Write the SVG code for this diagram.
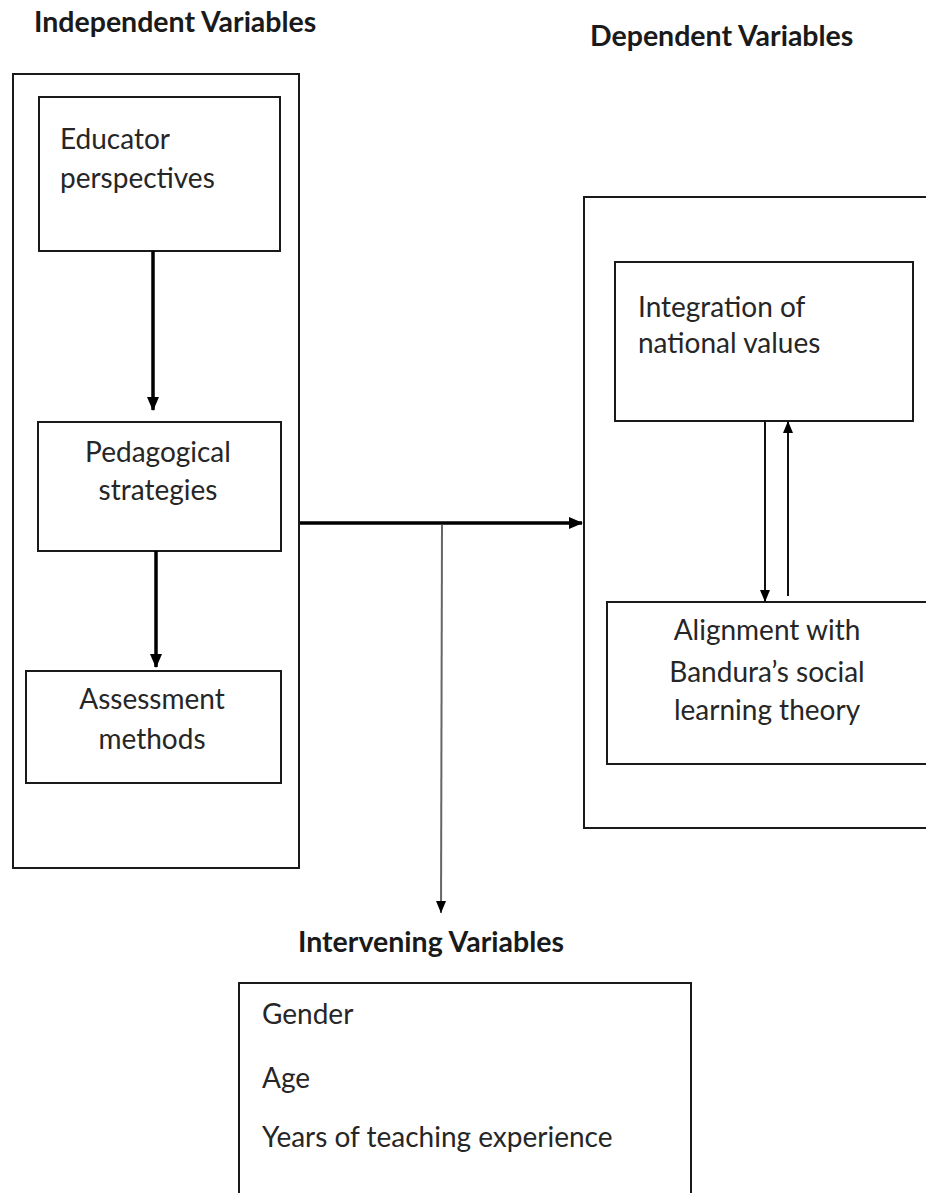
<svg xmlns="http://www.w3.org/2000/svg" width="926" height="1193" viewBox="0 0 926 1193">
<style>
.box{fill:#fff;stroke:#1a1a1a;stroke-width:2}
.t{font-family:Lato,"Open Sans","Liberation Sans",sans-serif;font-size:28px;fill:#262626}
.h{font-family:Lato,"Open Sans","Liberation Sans",sans-serif;font-size:28.5px;font-weight:bold;fill:#1a1a1a}
.thick{stroke:#000;stroke-width:3.5;fill:none}
.thin{stroke:#111;stroke-width:2;fill:none}
.gray{stroke:#666;stroke-width:2;fill:none}
</style>
<defs>
<marker id="ah" markerUnits="userSpaceOnUse" markerWidth="14" markerHeight="14" viewBox="0 0 14 14" refX="13" refY="7" orient="auto"><path d="M0,1 L14,7 L0,13 Z" fill="#000"/></marker>
<marker id="as" markerUnits="userSpaceOnUse" markerWidth="12" markerHeight="12" viewBox="0 0 12 12" refX="12" refY="6" orient="auto"><path d="M0,1 L12,6 L0,11 Z" fill="#000"/></marker>
</defs>
<rect width="926" height="1193" fill="#fff"/>

<g id="title-independent"><text class="h" x="34" y="32">Independent Variables</text></g>
<g id="title-dependent"><text class="h" x="590" y="46">Dependent Variables</text></g>
<g id="title-intervening"><text class="h" x="298" y="952">Intervening Variables</text></g>

<g id="independent-group"><rect class="box" x="13" y="74" width="286" height="794"/></g>
<g id="dependent-group"><rect class="box" x="584" y="197" width="350" height="631"/></g>

<g id="educator"><rect class="box" x="39" y="97" width="241" height="154"/>
<text class="t" x="60" y="149">Educator</text><text class="t" x="60" y="188">perspectives</text></g>
<g id="pedagogical"><rect class="box" x="38" y="422" width="243" height="129"/>
<text class="t" x="158" y="462" text-anchor="middle">Pedagogical</text><text class="t" x="158" y="500" text-anchor="middle">strategies</text></g>
<g id="assessment"><rect class="box" x="26" y="671" width="255" height="112"/>
<text class="t" x="152" y="709" text-anchor="middle">Assessment</text><text class="t" x="152" y="749" text-anchor="middle">methods</text></g>

<g id="integration"><rect class="box" x="615" y="262" width="298" height="159"/>
<text class="t" x="638" y="317">Integration of</text><text class="t" x="638" y="353">national values</text></g>
<g id="alignment"><rect class="box" x="607" y="602" width="330" height="162"/>
<text class="t" x="767" y="640" text-anchor="middle">Alignment with</text><text class="t" x="767" y="682" text-anchor="middle">Bandura’s social</text><text class="t" x="767" y="720" text-anchor="middle">learning theory</text></g>

<g id="intervening"><rect class="box" x="239" y="983" width="452" height="230"/>
<text class="t" x="262" y="1024">Gender</text><text class="t" x="262" y="1088">Age</text><text class="t" x="262" y="1147">Years of teaching experience</text></g>

<g id="connectors">
<line class="thick" x1="153" y1="251" x2="153" y2="410" marker-end="url(#ah)"/>
<line class="thick" x1="156" y1="551" x2="156" y2="667" marker-end="url(#ah)"/>
<line class="thick" x1="300" y1="523" x2="582" y2="523" marker-end="url(#ah)"/>
<line class="gray" x1="442" y1="525" x2="441" y2="913" marker-end="url(#as)"/>
<line class="thin" x1="765" y1="421" x2="765" y2="602" marker-end="url(#as)"/>
<line class="thin" x1="788" y1="596" x2="788" y2="421" marker-end="url(#as)"/>
</g>
</svg>
